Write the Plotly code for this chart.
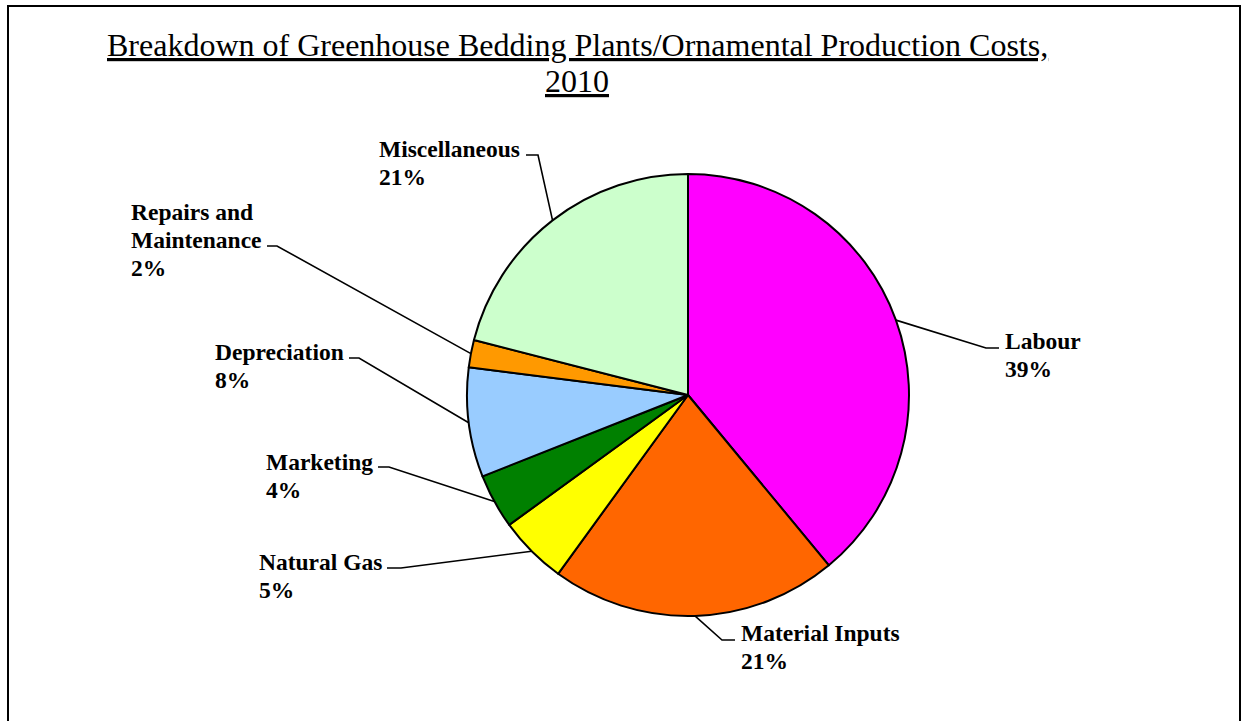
import math
import plotly.graph_objects as go

# ---- data ----
labels = ["Labour", "Material Inputs", "Natural Gas", "Marketing",
          "Depreciation", "Repairs and Maintenance", "Miscellaneous"]
values = [39, 21, 5, 4, 8, 2, 21]
label_lines = [["Labour"], ["Material Inputs"], ["Natural Gas"], ["Marketing"],
               ["Depreciation"], ["Repairs and", "Maintenance"], ["Miscellaneous"]]
colors = ["#FF00FF", "#FF6600", "#FFFF00", "#008000",
          "#99CCFF", "#FF9900", "#CCFFCC"]
title_lines = ["Breakdown of Greenhouse Bedding Plants/Ornamental Production Costs,",
               "2010"]

# ---- layout (pixels) ----
W, H = 1249, 721
CX, CY, R = 688, 395, 221
FONT = "Liberation Serif"
LFS = 23.5    # label font size
LSTEP = 28    # label line spacing
TFS = 32      # title font size
TSTEP = 36    # title line spacing

# label placement: text left, text top (cap), leader: near-text x, elbow x, y
label_pos = [
    dict(tx=1003, ty=332, nx=999, ex=986, ly=348),   # Labour
    dict(tx=739, ty=624, nx=735, ex=722, ly=640),    # Material Inputs
    dict(tx=257, ty=553, nx=387, ex=401, ly=568),    # Natural Gas
    dict(tx=264, ty=453, nx=378, ex=389, ly=467),    # Marketing
    dict(tx=213, ty=343, nx=349, ex=359, ly=358),    # Depreciation
    dict(tx=129, ty=203, nx=267, ex=277, ly=246),    # Repairs
    dict(tx=377, ty=140, nx=526, ex=538, ly=155),    # Miscellaneous
]


def px(x):
    return x / W


def py(y):
    return 1 - y / H


def cap_offset(size):
    return 0.229 * size + 1


fig = go.Figure()
fig.add_trace(go.Pie(
    labels=labels, values=values, sort=False, direction="clockwise",
    rotation=0, textinfo="none", hoverinfo="skip",
    marker=dict(colors=colors, line=dict(color="black", width=2)),
    domain=dict(x=[px(CX - R), px(CX + R)], y=[py(CY + R), py(CY - R)]),
    showlegend=False,
))

shapes = []
annotations = []
total = sum(values)
cum = 0
for lines, v, pos in zip(label_lines, values, label_pos):
    mid = (cum + v / 2) / total * 2 * math.pi
    cum += v
    ex_pt = CX + R * math.sin(mid)
    ey_pt = CY - R * math.cos(mid)
    path = (f"M {px(pos['nx'])},{py(pos['ly'])} L {px(pos['ex'])},{py(pos['ly'])} "
            f"L {px(ex_pt)},{py(ey_pt)}")
    shapes.append(dict(type="path", xref="paper", yref="paper", path=path,
                       line=dict(color="black", width=1.6)))
    pct = round(v / total * 100)
    all_lines = lines + [f"{pct}%"]
    for i, t in enumerate(all_lines):
        annotations.append(dict(
            text=f"<b>{t}</b>", xref="paper", yref="paper",
            x=px(pos["tx"]), y=py(pos["ty"] + i * LSTEP - cap_offset(LFS)),
            xanchor="left", yanchor="top", align="left", showarrow=False,
            font=dict(family=FONT, size=LFS, color="black"),
        ))

for i, t in enumerate(title_lines):
    annotations.append(dict(
        text=f"<u>{t}</u>", xref="paper", yref="paper",
        x=px(577), y=py(33 + i * TSTEP - cap_offset(TFS)),
        xanchor="center", yanchor="top", align="center", showarrow=False,
        font=dict(family=FONT, size=TFS, color="black"),
    ))

# outer frame
shapes.append(dict(type="rect", xref="paper", yref="paper",
                   x0=px(8), x1=px(1240), y0=-0.05, y1=py(6),
                   line=dict(color="black", width=2)))

fig.update_layout(
    width=W, height=H, margin=dict(l=0, r=0, t=0, b=0),
    paper_bgcolor="white", plot_bgcolor="white",
    shapes=shapes, annotations=annotations, hovermode=False,
)

fig.write_html("out.html")
